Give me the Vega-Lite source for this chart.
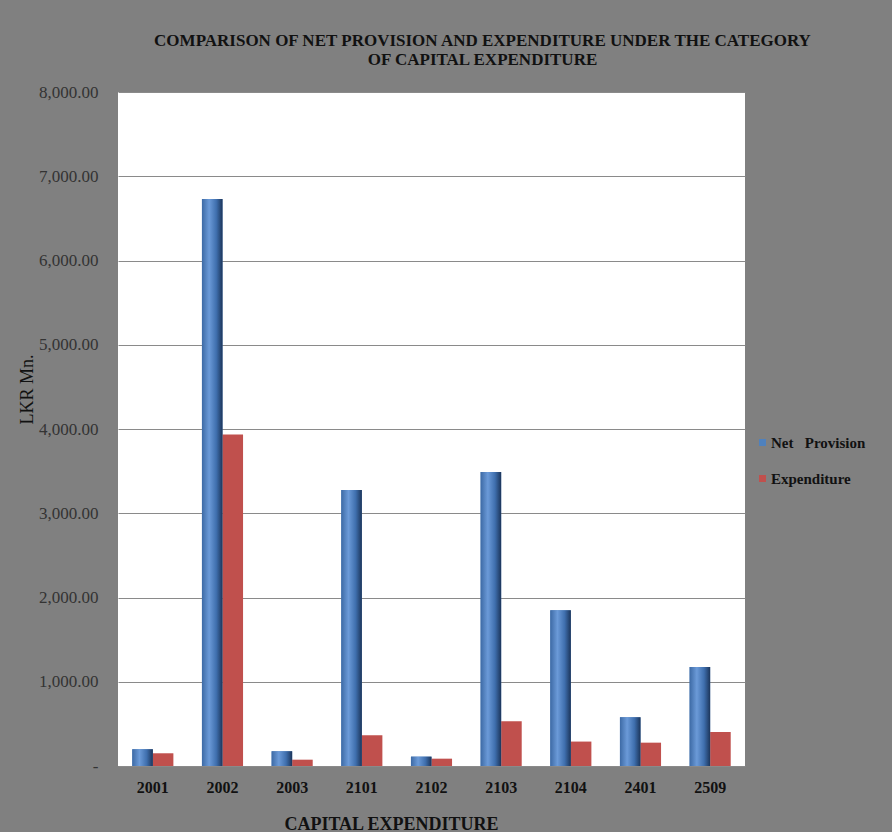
{
  "$schema": "https://vega.github.io/schema/vega-lite/v6.json",
  "autosize": {"type": "none"},
  "width": 627,
  "height": 674,
  "padding": {"left": 118, "top": 92, "right": 147, "bottom": 66},
  "background": "#808080",
  "title": {
    "text": ["COMPARISON OF NET PROVISION AND EXPENDITURE UNDER THE CATEGORY", "OF CAPITAL EXPENDITURE"],
    "font": "Liberation Serif",
    "fontSize": 17,
    "fontWeight": "bold",
    "color": "#111111",
    "anchor": "middle",
    "dx": 51,
    "offset": 14,
    "lineHeight": 19
  },
  "config": {
    "view": {"fill": "#ffffff", "stroke": null},
    "font": "Liberation Serif"
  },
  "data": {
    "values": [
      {"code": "2001", "series": "Net Provision", "value": 199},
      {"code": "2001", "series": "Expenditure", "value": 151},
      {"code": "2002", "series": "Net Provision", "value": 6730},
      {"code": "2002", "series": "Expenditure", "value": 3935},
      {"code": "2003", "series": "Net Provision", "value": 175},
      {"code": "2003", "series": "Expenditure", "value": 75},
      {"code": "2101", "series": "Net Provision", "value": 3275},
      {"code": "2101", "series": "Expenditure", "value": 365},
      {"code": "2102", "series": "Net Provision", "value": 111},
      {"code": "2102", "series": "Expenditure", "value": 87},
      {"code": "2103", "series": "Net Provision", "value": 3490},
      {"code": "2103", "series": "Expenditure", "value": 532},
      {"code": "2104", "series": "Net Provision", "value": 1850},
      {"code": "2104", "series": "Expenditure", "value": 290},
      {"code": "2401", "series": "Net Provision", "value": 580},
      {"code": "2401", "series": "Expenditure", "value": 277},
      {"code": "2509", "series": "Net Provision", "value": 1175},
      {"code": "2509", "series": "Expenditure", "value": 405}
    ]
  },
  "encoding": {
    "x": {
      "field": "code",
      "type": "nominal",
      "sort": null,
      "scale": {"paddingInner": 0.41, "paddingOuter": 0.205},
      "axis": {
        "title": "CAPITAL EXPENDITURE",
        "titleFont": "Liberation Serif",
        "titleFontSize": 18,
        "titleFontWeight": "bold",
        "titleColor": "#111111",
        "titleX": 273,
        "titleY": 58,
        "titleAnchor": null,
        "titleAlign": "center",
        "titleBaseline": "middle",
        "labelAngle": 0,
        "labelFont": "Liberation Serif",
        "labelFontSize": 16,
        "labelFontWeight": "bold",
        "labelColor": "#111111",
        "labelPadding": 13,
        "domain": false,
        "ticks": false
      }
    },
    "xOffset": {
      "field": "series",
      "type": "nominal",
      "sort": ["Net Provision", "Expenditure"],
      "scale": {"paddingInner": 0, "paddingOuter": 0}
    },
    "y": {
      "field": "value",
      "type": "quantitative",
      "scale": {"domain": [0, 8000], "nice": false},
      "axis": {
        "values": [0, 1000, 2000, 3000, 4000, 5000, 6000, 7000, 8000],
        "labelExpr": "datum.value == 0 ? '-\u00a0\u00a0\u00a0' : format(datum.value, ',.2f')",
        "labelFont": "Liberation Serif",
        "labelFontSize": 17,
        "labelColor": "#333333",
        "labelPadding": 20,
        "domain": false,
        "ticks": false,
        "grid": true,
        "gridColor": "#8a8a8a",
        "gridWidth": 1,
        "title": "LKR Mn.",
        "titleFont": "Liberation Serif",
        "titleFontSize": 18,
        "titleFontWeight": "normal",
        "titleColor": "#111111",
        "titleX": -91,
        "titleY": 297,
        "titleAngle": -90,
        "titleAlign": "center",
        "titleBaseline": "middle"
      }
    }
  },
  "layer": [
    {
      "mark": {"type": "bar"},
      "encoding": {
        "color": {
          "field": "series",
          "type": "nominal",
          "sort": ["Net Provision", "Expenditure"],
          "scale": {"domain": ["Net Provision", "Expenditure"], "range": ["#4f81bd", "#c0504d"]},
          "legend": {
            "title": null,
            "orient": "none",
            "legendX": 637,
            "legendY": 343,
            "symbolType": "square",
            "symbolSize": 49,
            "symbolStrokeWidth": 0,
            "labelFont": "Liberation Serif",
            "labelFontSize": 15,
            "labelFontWeight": "bold",
            "labelColor": "#111111",
            "labelOffset": 1,
            "rowPadding": 20,
            "labelExpr": "replace(datum.label, ' ', '\u00a0\u00a0\u00a0')"
          }
        }
      }
    },
    {
      "transform": [{"filter": "datum.series == 'Net Provision'"}],
      "mark": {
        "type": "bar",
        "fill": {
          "gradient": "linear",
          "x1": 0, "y1": 0, "x2": 1, "y2": 0,
          "stops": [
            {"offset": 0, "color": "#3d6aa5"},
            {"offset": 0.35, "color": "#6b9ad8"},
            {"offset": 0.7, "color": "#3f6fae"},
            {"offset": 1, "color": "#1c355a"}
          ]
        }
      }
    }
  ]
}
